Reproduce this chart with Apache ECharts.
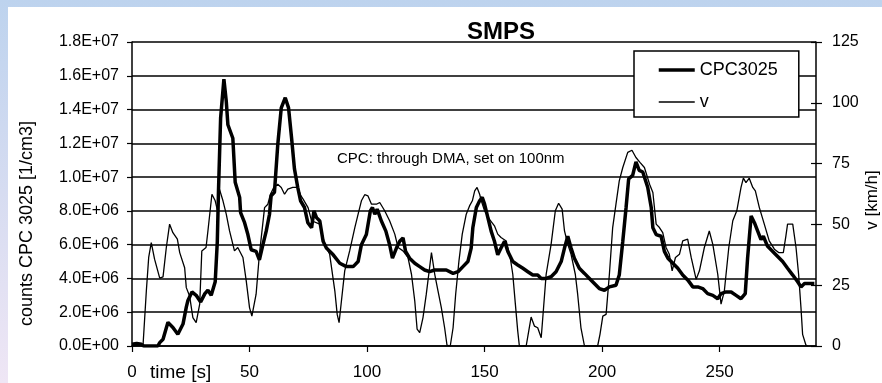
<!DOCTYPE html>
<html>
<head>
<meta charset="utf-8">
<title>SMPS</title>
<script src="https://cdn.jsdelivr.net/npm/echarts@6/dist/echarts.min.js"></script>
<style>
  html, body { margin: 0; padding: 0; }
  body {
    width: 882px; height: 383px; overflow: hidden; position: relative;
    background: linear-gradient(to bottom, #bdd3ee 0%, #d6dcf1 50%, #efe6f5 100%);
  }
  #chart { position: absolute; left: 8px; top: 7px; width: 874px; height: 376px; background: #ffffff; }
</style>
</head>
<body>
<div id="chart"></div>
<script>
// CPC3025 counts, in units of 1E+06 1/cm3 (left axis)
const cpcTime = [
  0, 2, 4, 5, 11, 11.8, 13.2, 15.3, 17.4, 19.5, 21.7, 23.1, 23.8, 25.5, 27.3, 29.2, 31, 32.3, 33.7, 35.4,
  36.3, 36.8, 37.7, 39.1, 40.1, 40.8, 42.9, 43.9, 45.8, 46.2, 47.9, 49.3, 50.7, 52.8, 54.2, 55.7, 57.1, 58.5, 59.2, 60.6,
  62, 63.5, 65.2, 66.6, 67.9, 69.1, 70.5, 71.7, 73.4, 74.8, 76.4, 77.4, 78.5, 79.9, 81.3, 82.7, 85.6, 88.4, 91.2, 94.1,
  96.2, 97.6, 99.7, 101.4, 102.3, 103.3, 104.3, 106.1, 108, 109.6, 110.8, 112.5, 113.9, 115.3, 116.4, 118.1, 120.3, 122.4, 124.5, 126.6,
  128.8, 130.9, 133.7, 136.6, 138.7, 140.8, 142.9, 144.3, 145, 146.5, 147.9, 149, 150, 151.4, 152.8, 154.2, 155.6, 157, 158.5, 159.9,
  162, 164.1, 166.3, 168.4, 170.5, 172.6, 174.1, 176.2, 178.3, 180.4, 182.6, 184, 185.4, 186.8, 188.2, 190.3, 192.5, 194.6, 196.7, 198.8,
  201, 203.1, 205.9, 207.3, 208.8, 210.2, 211.3, 213, 214.4, 215.8, 217.3, 219.4, 220.9, 221.6, 223, 225.1, 226.5, 228, 230.1, 232.2,
  234.3, 236.5, 238.6, 240.7, 242.8, 244.9, 247.1, 249.2, 250.6, 252.7, 254.9, 257, 259.1, 260.9, 261.9, 263.4, 264.8, 266.2, 267.6, 268.6,
  270.4, 272.6, 274.7, 276.8, 278.9, 281.1, 283.2, 284.6, 286.1, 288.2, 290.3
];
const cpcValues = [
  0.1, 0.15, 0.1, 0, 0, 0.2, 0.4, 1.4, 1.1, 0.7, 1.3, 2.3, 2.7, 3.2, 3.0, 2.6, 3.1, 3.3, 3.0, 3.8,
  6.2, 9.2, 13.5, 15.8, 14.5, 13.1, 12.3, 9.7, 8.8, 7.9, 7.3, 6.6, 5.7, 5.6, 5.1, 6.0, 6.8, 7.8, 8.9, 9.1,
  11.9, 14.1, 14.7, 14.1, 12.3, 10.5, 9.4, 8.6, 8.2, 7.3, 7.0, 8.0, 7.6, 7.4, 6.2, 5.8, 5.4, 4.9, 4.7, 4.7,
  5.0, 6.0, 6.6, 8.0, 8.2, 7.8, 8.1, 7.4, 6.8, 6.0, 5.2, 5.8, 6.2, 6.4, 5.6, 5.2, 4.9, 4.7, 4.5, 4.4,
  4.5, 4.5, 4.5, 4.3, 4.4, 4.7, 5.0, 5.8, 7.0, 8.2, 8.6, 8.8, 8.4, 7.6, 6.8, 6.2, 5.4, 5.8, 6.2, 5.6,
  5.0, 4.8, 4.6, 4.4, 4.2, 4.2, 4.0, 4.0, 4.1, 4.4, 5.0, 5.8, 6.5, 5.8, 5.2, 4.6, 4.3, 4.0, 3.7, 3.4,
  3.3, 3.5, 3.6, 4.2, 6.2, 8.2, 9.9, 10.1, 10.9, 10.4, 10.3, 9.4, 8.2, 7.0, 6.6, 6.5, 5.6, 5.2, 4.9, 4.6,
  4.2, 3.9, 3.5, 3.5, 3.4, 3.1, 3.0, 2.8, 3.1, 3.2, 3.2, 3.0, 2.8, 3.1, 5.2, 7.7, 7.3, 6.8, 6.3, 6.5,
  5.9, 5.6, 5.3, 5.0, 4.6, 4.2, 3.8, 3.5, 3.7, 3.7, 3.7
];

// vehicle speed v [km/h] (right axis)
const vTime = [
  0, 4.7, 6.1, 7.1, 8.2, 9.6, 11.8, 13.2, 14.6, 16, 17.4, 19.3, 20.3, 22.4, 23.1, 24.5, 25.9, 27.3, 28.8, 29.7,
  31.5, 32.3, 34, 35.4, 36.3, 37.2, 38.7, 40.1, 41.5, 43.6, 45, 47.2, 48.6, 50, 51, 52.8, 54.2, 56.4, 57.8, 58.9,
  60.3, 62, 63.5, 64.9, 66.3, 68.4, 70.5, 71.9, 72.8, 74.9, 76.4, 79.9, 82, 84.1, 86.3, 87.3, 88.1, 89.1, 90.5, 92.6,
  94.8, 96.2, 97.6, 99, 100.4, 101.9, 104, 105.4, 107.5, 109.6, 111.8, 113.2, 115.3, 117.4, 118.9, 120.3, 121.3, 122.4, 123.8, 125.2,
  127.4, 128.8, 130.2, 131.6, 133, 134, 135.4, 136.6, 137.7, 139.1, 140.5, 142.2, 143.6, 144.8, 145.8, 146.8, 147.9, 148.6, 150, 152.1,
  154.2, 155.6, 157, 159.2, 160.9, 162, 163.1, 164.1, 164.8, 167.7, 168.8, 169.8, 171.2, 172.6, 174.1, 175.1, 176.2, 178.3, 180.1, 181.5,
  183, 184, 185.4, 186.8, 188.6, 189.6, 191, 192.5, 198.1, 199.1, 200.3, 201.7, 203.1, 204.5, 205.9, 207.3, 208.8, 210.9, 212.7, 214.4,
  216.1, 218, 220.2, 221.6, 223, 224.4, 225.8, 227.2, 228.6, 229.8, 231.2, 232.9, 234.3, 236.4, 237.9, 240, 241.4, 243.5, 245.6, 247.1,
  249.2, 250.6, 251.3, 252, 253.9, 255.6, 257.3, 259.1, 260.1, 261.2, 262.6, 264.1, 265.2, 266.9, 269, 271.1, 273.3, 275.1, 277.1, 278.2,
  278.9, 281.1, 282.5, 283.6, 284.6, 285.3, 286.7, 287.4
];
const vValues = [
  0, 0.4, 22.6, 36.4, 42.5, 35.7, 27.9, 28.4, 40.5, 50.1, 46.6, 43.9, 38.4, 32.2, 24, 20.6, 11.7, 9.6, 17.2, 39.1,
  40.5, 47.3, 62.4, 59.7, 56, 64.5, 59.7, 54.2, 47.3, 39.1, 40.5, 36.4, 26.8, 15.8, 12.3, 21.3, 37.7, 56.9, 58.3, 62.4,
  65.2, 66.5, 65.2, 62.4, 64.5, 65.2, 65.2, 61.7, 60.4, 56.9, 51.5, 50.1, 41.8, 37.7, 22.6, 13, 9.6, 18.5, 30.9, 39.1,
  48.7, 54.2, 59.7, 62.2, 61.7, 58.3, 58.3, 59, 55.6, 51.5, 46, 40.5, 39.1, 36.4, 29.5, 18.5, 6.9, 5.5, 11.7, 21.3,
  38.4, 29.5, 22.6, 15.8, 7.5, 0.4, 0, 7.5, 21.3, 35, 46, 54.2, 57.6, 59.7, 63.8, 65.2, 62.4, 59.7, 55.6, 52.1,
  49.4, 46, 44.6, 43.2, 36.4, 29.5, 17.2, 6.2, 0, 0, 6.2, 11.9, 8.2, 7.5, 3.4, 15.8, 29.5, 41.8, 55.6, 58.7,
  56.3, 47.3, 41.8, 37.7, 29.5, 21.3, 7.5, 0, 0, 4.8, 12.3, 13, 29.5, 48.7, 58.3, 67.9, 73.4, 79.6, 80.5, 77.5,
  75.5, 73.4, 66.5, 63.1, 50.1, 48.7, 46.6, 40.5, 37.7, 30.9, 36.4, 37.7, 43.2, 43.9, 36.4, 27.4, 30.9, 40.5, 47.3, 41.8,
  29.5, 17.2, 16.5, 22.6, 40.5, 51.5, 55.6, 65.2, 69, 67.2, 69, 65.2, 63.8, 56.9, 50.1, 43.2, 39.8, 38.4, 38.4, 45.3,
  50.1, 50.1, 40.5, 29.5, 15.8, 4.8, 0.4, 0
];

// axis ranges
const countRange = { min: 0, max: 18, interval: 2 };   // x 1E+06
const speedRange = { min: 0, max: 125, interval: 25 };
const timeRange = { min: 0, max: 291, interval: 50 };

const FONT = '"Liberation Sans", Arial, sans-serif';
const INK = "#000000";
const THICK = 3.5;
const THIN = 1.3;

// 2.0E+06 style labels
function sci(v) {
  const n = Math.round(v * 1e6);
  if (n === 0) return "0.0E+00";
  const e = Math.floor(Math.log10(n) + 1e-9);
  const m = n / Math.pow(10, e);
  return m.toFixed(1) + "E+" + String(e).padStart(2, "0");
}

const chart = echarts.init(document.getElementById("chart"), null, { renderer: "canvas" });

chart.setOption({
  animation: false,
  backgroundColor: "#ffffff",
  textStyle: { fontFamily: FONT, color: INK },
  title: {
    text: "SMPS",
    left: 488,
    top: 8,
    textAlign: "center",
    textStyle: { fontFamily: FONT, fontSize: 24, fontWeight: "bold", color: INK }
  },
  legend: {
    orient: "vertical",
    left: 626,
    top: 44,
    padding: [10, 21, 6, 23],
    itemGap: 14,
    itemWidth: 36,
    itemHeight: 14,
    backgroundColor: "#ffffff",
    borderColor: INK,
    borderWidth: 1.5,
    borderRadius: 0,
    itemStyle: { opacity: 0 },   // line only, no marker
    textStyle: { fontFamily: FONT, fontSize: 18, color: INK },
    data: [
      { name: "CPC3025", lineStyle: { width: THICK } },
      { name: "v", lineStyle: { width: THIN } }
    ]
  },
  grid: { left: 124, right: 66, top: 35, bottom: 37, outerBoundsMode: "none" },
  xAxis: {
    type: "value",
    min: timeRange.min,
    max: timeRange.max,
    interval: timeRange.interval,
    axisLine: { show: true, lineStyle: { color: INK, width: 1.5 } },
    axisTick: { show: true, length: 6, lineStyle: { color: INK, width: 1.2 } },
    axisLabel: {
      margin: 18, fontSize: 17, color: INK, fontFamily: FONT, showMaxLabel: false,
      formatter: (v) => (v % 50 === 0 ? String(v) : "")
    },
    splitLine: { show: false }
  },
  yAxis: [
    {
      type: "value",
      min: countRange.min,
      max: countRange.max,
      interval: countRange.interval,
      name: "counts CPC 3025 [1/cm3]",
      nameLocation: "middle",
      nameRotate: 90,
      nameGap: 96,
      nameTextStyle: { fontFamily: FONT, fontSize: 18, color: INK, padding: [0, 59, 0, 0] },
      axisLine: { show: true, lineStyle: { color: INK, width: 1.5 } },
      axisTick: { show: true, length: 5, lineStyle: { color: INK, width: 1.2 } },
      axisLabel: { margin: 13, fontSize: 16, color: INK, fontFamily: FONT, formatter: sci },
      splitLine: { show: true, lineStyle: { color: INK, width: 1.5 } }
    },
    {
      type: "value",
      position: "right",
      min: speedRange.min,
      max: speedRange.max,
      interval: speedRange.interval,
      name: "v [km/h]",
      nameLocation: "middle",
      nameRotate: 90,
      nameGap: 48,
      nameMoveOverlap: false,
      nameTextStyle: { fontFamily: FONT, fontSize: 17, color: INK, padding: [0, 12, 0, 0] },
      axisLine: { show: true, lineStyle: { color: INK, width: 1.5 } },
      axisTick: { show: true, length: 6, lineStyle: { color: INK, width: 1.2 } },
      axisLabel: { margin: 16, fontSize: 16, color: INK, fontFamily: FONT },
      splitLine: { show: false }
    },
    {
      // inner half of the right-axis ticks (ticks cross the axis line)
      type: "value",
      position: "right",
      min: speedRange.min,
      max: speedRange.max,
      interval: speedRange.interval,
      axisLine: { show: false },
      axisTick: { show: true, inside: true, length: 5, lineStyle: { color: INK, width: 1.2 } },
      axisLabel: { show: false },
      splitLine: { show: false }
    }
  ],
  graphic: [
    {
      type: "text",
      left: 142,
      top: 356,
      style: { text: "time [s]", font: "19px " + FONT, fill: INK }
    },
    {
      type: "text",
      left: 329,
      top: 144,
      style: { text: "CPC: through DMA, set on 100nm", font: "15px " + FONT, fill: INK }
    }
  ],
  series: [
    {
      name: "CPC3025",
      type: "line",
      yAxisIndex: 0,
      symbol: "none",
      smooth: false,
      lineStyle: { color: INK, width: THICK },
      itemStyle: { color: INK },
      data: cpcTime.map((t, i) => [t, cpcValues[i]]),
      z: 3
    },
    {
      name: "v",
      type: "line",
      yAxisIndex: 1,
      symbol: "none",
      smooth: false,
      lineStyle: { color: INK, width: THIN },
      itemStyle: { color: INK },
      data: vTime.map((t, i) => [t, vValues[i]]),
      z: 2
    }
  ]
});
</script>
</body>
</html>
